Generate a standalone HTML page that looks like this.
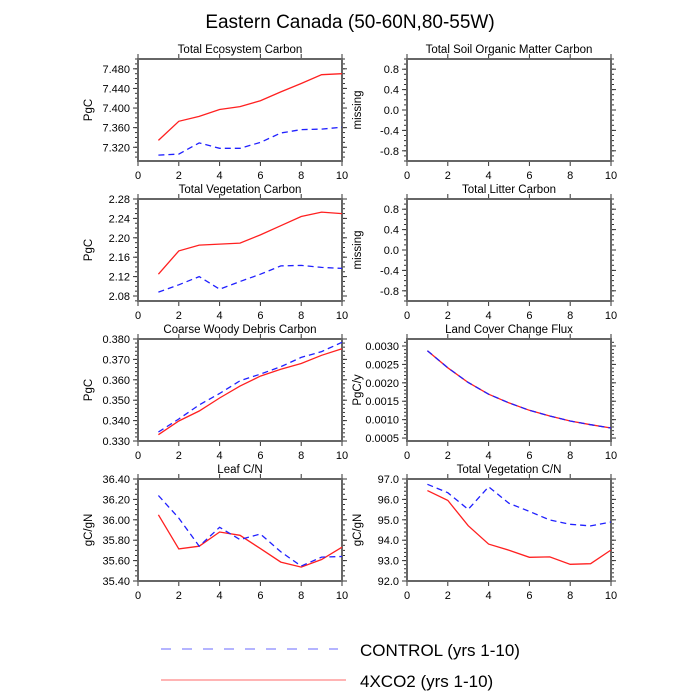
<!DOCTYPE html>
<html><head><meta charset="utf-8">
<style>
html,body{margin:0;padding:0;background:#fff;}
svg{display:block;font-family:"Liberation Sans",sans-serif;}
</style></head>
<body>
<svg id="chart" width="700" height="700" viewBox="0 0 700 700" xmlns="http://www.w3.org/2000/svg">
<text x="350" y="28" font-size="19" text-anchor="middle">Eastern Canada (50-60N,80-55W)</text>
<g>
<line x1="161" y1="649" x2="338" y2="649" stroke="#6a6aff" stroke-width="1" stroke-dasharray="10,11"/>
<text x="360" y="656" font-size="17">CONTROL (yrs 1-10)</text>
<line x1="161" y1="680" x2="346" y2="680" stroke="#ff6a6a" stroke-width="1"/>
<text x="360" y="687" font-size="17">4XCO2 (yrs 1-10)</text>
</g>
</svg>
<script>
const years = [1,2,3,4,5,6,7,8,9,10];
const xTicks = [0,2,4,6,8,10];
const tecControl = [7.304,7.306,7.329,7.318,7.318,7.330,7.349,7.356,7.357,7.361];
const tec4x = [7.334,7.373,7.383,7.397,7.403,7.415,7.433,7.450,7.468,7.470];
const tecTicks = ["7.320","7.360","7.400","7.440","7.480"];
const vegControl = [2.088,2.103,2.120,2.094,2.110,2.125,2.142,2.143,2.139,2.137];
const veg4x = [2.125,2.173,2.185,2.187,2.189,2.206,2.225,2.244,2.253,2.250];
const vegTicks = ["2.08","2.12","2.16","2.20","2.24","2.28"];
const cwdControl = [0.3344,0.3408,0.3477,0.3533,0.3595,0.3628,0.3664,0.3710,0.3738,0.3784];
const cwd4x = [0.3331,0.3398,0.3447,0.3511,0.3569,0.3618,0.3652,0.3680,0.3720,0.3752];
const cwdTicks = ["0.330","0.340","0.350","0.360","0.370","0.380"];
const leafControl = [36.238,36.017,35.741,35.926,35.806,35.861,35.686,35.546,35.634,35.640];
const leaf4x = [36.049,35.715,35.741,35.880,35.848,35.718,35.585,35.536,35.611,35.731];
const leafTicks = ["35.40","35.60","35.80","36.00","36.20","36.40"];
const lccControl = [0.002873,0.002409,0.002009,0.00169,0.001455,0.001255,0.0011,0.000964,0.000864,0.000773];
const lcc4x = [0.002873,0.002409,0.002009,0.00169,0.001455,0.001255,0.0011,0.000964,0.000864,0.000773];
const lccTicks = ["0.0005","0.0010","0.0015","0.0020","0.0025","0.0030"];
const vcnControl = [96.74,96.33,95.51,96.62,95.81,95.41,94.99,94.78,94.70,94.89];
const vcn4x = [96.43,95.95,94.71,93.81,93.51,93.16,93.18,92.82,92.85,93.52];
const vcnTicks = ["92.0","93.0","94.0","95.0","96.0","97.0"];
const missTicks = ["-0.8","-0.4","0.0","0.4","0.8"];

const NS = "http://www.w3.org/2000/svg";
const svg = document.getElementById('chart');
function mk(tag, attrs, parent){
  const e = document.createElementNS(NS, tag);
  for (const k in attrs) e.setAttribute(k, attrs[k]);
  (parent||svg).appendChild(e);
  return e;
}
function panel(p){
  const g = mk('g', {});
  
  
  const L=p.x, R=p.x+204, T=p.y, B=p.y+102;
  const xs = v => L + (v-0)/10*(R-L);
  const ys = v => B - (v-p.ymin)/(p.ymax-p.ymin)*(B-T);
  const t = mk('text', {x:(L+R)/2, y:T-6, 'font-size':11.5, 'text-anchor':'middle'}, g);
  t.textContent = p.title;
  
  
  const yl = mk('text', {x:0, y:0, 'font-size':11.5, 'text-anchor':'middle', transform:`translate(${L-46},${(T+B)/2}) rotate(-90)`}, g);
  yl.textContent = p.ylabel;
  
  
  const tk = {stroke:'#333','stroke-width':1};
  // x ticks
  xTicks.forEach(v=>{
    const x = xs(v);
    mk('line', Object.assign({x1:x,y1:B,x2:x,y2:B+5}, tk), g);
    mk('line', Object.assign({x1:x,y1:T,x2:x,y2:T-5}, tk), g);
    const lb = mk('text', {x:x, y:B+18, 'font-size':11, 'text-anchor':'middle'}, g);
    lb.textContent = v;
    
    
  });
  // y minor ticks
  for (let v = p.ymin0; v <= p.ymax + 1e-12; v += p.minor){
    if (v < p.ymin - 1e-12) continue;
    const y = ys(v);
    mk('line', Object.assign({x1:L,y1:y,x2:L-3,y2:y}, tk), g);
    mk('line', Object.assign({x1:R,y1:y,x2:R+3,y2:y}, tk), g);
  }
  p.ticks.forEach(s=>{
    const y = ys(parseFloat(s));
    mk('line', Object.assign({x1:L,y1:y,x2:L-5,y2:y}, tk), g);
    mk('line', Object.assign({x1:R,y1:y,x2:R+5,y2:y}, tk), g);
    const lb = mk('text', {x:L-8, y:y+4, 'font-size':11, 'text-anchor':'end'}, g);
    lb.textContent = s;
    
    
  });
  mk('rect', {x:L, y:T, width:R-L, height:B-T, fill:'none', stroke:'#666', 'stroke-width':2}, g);
  const series = [[p.c4x,'#ff2020',null,'4xco2'],[p.ctrl,'#2020ff','6,4','control']];
  if (p.ctrlOnTop) series.reverse();
  series.forEach(([arr,col,dash,nm])=>{
    if(!arr) return;
    const pts = arr.map((v,i)=>xs(years[i]).toFixed(1)+','+ys(v).toFixed(1)).join(' ');
    const a = {points:pts, fill:'none', stroke:col, 'stroke-width':1.3};
    if (dash) a['stroke-dasharray']=dash;
    const pl = mk('polyline', a, g);
    
    
  });
}
panel({name:'panel-total-ecosystem-carbon', title:'Total Ecosystem Carbon', ylabel:'PgC', x:138, y:59, ymin:7.292, ymax:7.500, ymin0:7.290, minor:0.01, ticks:tecTicks, ctrl:tecControl, c4x:tec4x});
panel({name:'panel-total-soil-organic-matter-carbon', title:'Total Soil Organic Matter Carbon', ylabel:'missing', x:407, y:59, ymin:-1, ymax:1, ymin0:-1, minor:0.1, ticks:missTicks});
panel({name:'panel-total-vegetation-carbon', title:'Total Vegetation Carbon', ylabel:'PgC', x:138, y:199, ymin:2.0697, ymax:2.28, ymin0:2.07, minor:0.01, ticks:vegTicks, ctrl:vegControl, c4x:veg4x});
panel({name:'panel-total-litter-carbon', title:'Total Litter Carbon', ylabel:'missing', x:407, y:199, ymin:-1, ymax:1, ymin0:-1, minor:0.1, ticks:missTicks});
panel({name:'panel-coarse-woody-debris-carbon', title:'Coarse Woody Debris Carbon', ylabel:'PgC', x:138, y:339, ymin:0.330, ymax:0.380, ymin0:0.330, minor:0.002, ticks:cwdTicks, ctrl:cwdControl, c4x:cwd4x});
panel({name:'panel-land-cover-change-flux', title:'Land Cover Change Flux', ylabel:'PgC/y', x:407, y:339, ymin:0.00042, ymax:0.00319, ymin0:0.0005, minor:0.0001, ticks:lccTicks, ctrl:lccControl, c4x:lcc4x});
panel({name:'panel-leaf-cn', title:'Leaf C/N', ylabel:'gC/gN', x:138, y:479, ymin:35.40, ymax:36.40, ymin0:35.40, minor:0.05, ticks:leafTicks, ctrl:leafControl, c4x:leaf4x});
panel({name:'panel-total-vegetation-cn', title:'Total Vegetation C/N', ylabel:'gC/gN', x:407, y:479, ymin:92, ymax:97, ymin0:92, minor:0.2, ticks:vcnTicks, ctrl:vcnControl, c4x:vcn4x});
</script>
</body></html>
